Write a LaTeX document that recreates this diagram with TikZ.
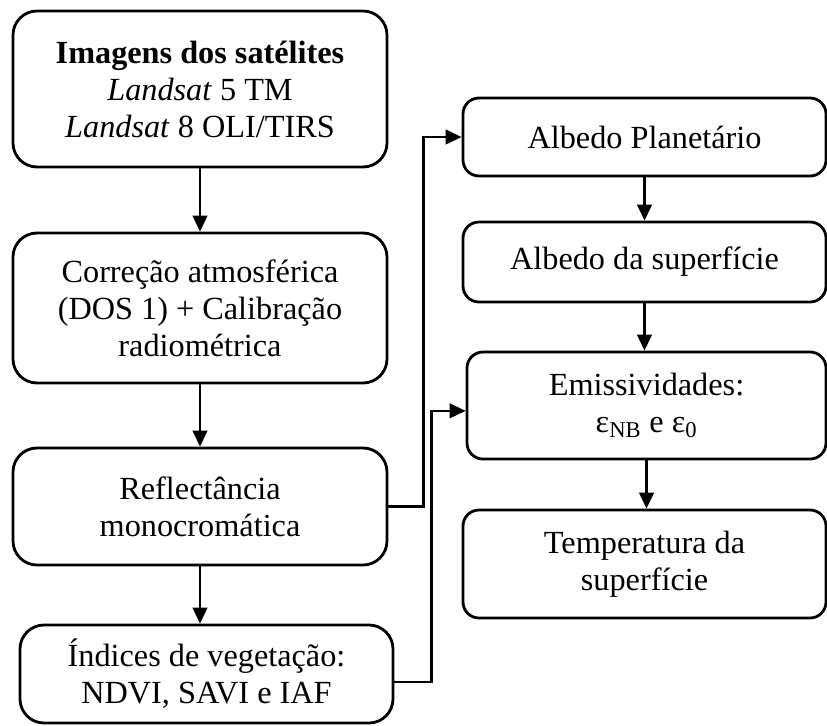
\documentclass[tikz,border=0pt]{standalone}
\usepackage{fontspec}
\setmainfont{Liberation Serif}
\usetikzlibrary{arrows.meta}

\begin{document}
\begin{tikzpicture}[x=0.75pt,y=-0.75pt,
  caixa/.style={draw, line width=2.1pt, rounded corners=18pt, align=center, inner sep=0pt, font=\fontsize{24.2}{27.75}\selectfont},
  caixad/.style={caixa, rounded corners=12pt},
  seta/.style={line width=1.7pt, -{Triangle[length=12pt,width=11pt]}}]

\useasboundingbox (0,0) rectangle (827,725);

% Left column
\node[caixa, minimum width=280.5pt, minimum height=117pt] (imagens) at (200,89) {\textbf{Imagens dos satélites}\\\textit{Landsat} 5 TM\\\textit{Landsat} 8 OLI/TIRS};
\node[caixa, minimum width=280.5pt, minimum height=112.5pt] (correcao) at (200,308) {Correção atmosférica\\(DOS 1) + Calibração\\radiométrica};
\node[caixa, minimum width=280.5pt, minimum height=87.75pt] (reflect) at (200,506.5) {Reflectância\\monocromática};
\node[caixa, minimum width=279.75pt, minimum height=73.5pt] (indices) at (206.5,674) {Índices de vegetação:\\NDVI, SAVI e IAF};

% Right column
\node[caixad, minimum width=272.25pt, minimum height=58.5pt] (albedoP) at (644.5,137) {Albedo Planetário};
\node[caixad, minimum width=272.25pt, minimum height=60pt] (albedoS) at (644.5,262) {Albedo da superfície};
\node[caixad, minimum width=269.25pt, minimum height=80.25pt] (emiss) at (646.5,405.5) {Emissividades:\\ε\textsubscript{NB} e ε\textsubscript{0}};
\node[caixad, minimum width=272.25pt, minimum height=81pt] (temp) at (644.5,564) {Temperatura da\\superfície};

% arrows
\draw[seta] (imagens) -- (correcao);
\draw[seta] (correcao) -- (reflect);
\draw[seta] (reflect.south) -- (reflect.south |- indices.north);
\draw[seta] (albedoP) -- (albedoS);
\draw[seta] (albedoS.south) -- (albedoS.south |- emiss.north);
\draw[seta] (emiss.south) -- (emiss.south |- temp.north);

\draw[seta] (reflect.east) -- ++(35,0) |- (albedoP.west);
\draw[seta] ([yshift=-6pt]indices.east) -- ++(37,0) |- ([yshift=-4pt]emiss.west);

\end{tikzpicture}
\end{document}
